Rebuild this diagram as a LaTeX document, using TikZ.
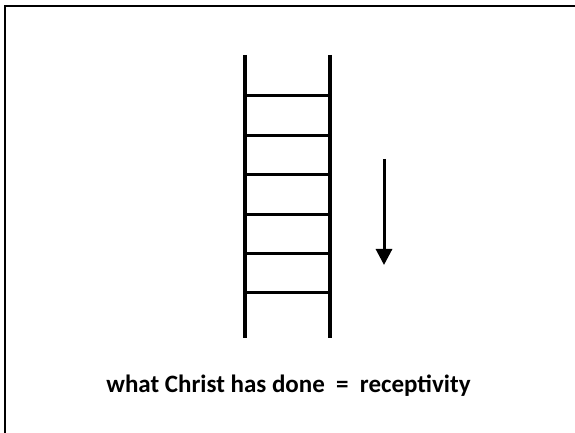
\documentclass[tikz,border=0pt]{standalone}
\usepackage{fontspec}
\setmainfont{Carlito}
\usetikzlibrary{arrows.meta}
\tikzset{frame/.style={line width=2pt},
  rail/.style={line width=3.3pt},
  rung/.style={line width=3pt},
  arrow/.style={-{Triangle[length=16pt,width=16pt]},line width=3pt},
  caption/.style={font=\bfseries\fontsize{25}{30}\selectfont,anchor=base}}

\begin{document}
\begin{tikzpicture}[x=1pt,y=1pt]
\useasboundingbox (0,0) rectangle (575,433);
\draw[frame] (5,-10) |- (585,427);
% ladder
\coordinate (lefttop) at (245,378);
\coordinate (leftbot) at (245,95);
\coordinate (righttop) at (330,378);
\coordinate (rightbot) at (330,95);
\draw[rail] (lefttop) -- (leftbot);
\draw[rail] (righttop) -- (rightbot);
\foreach \k in {0,...,5}
  \draw[rung] ([yshift=-41pt-39.4pt*\k]lefttop) -- ([yshift=-41pt-39.4pt*\k]righttop);
% direction
\coordinate (from) at (384,274);
\coordinate (to) at (384,168);
\draw[arrow] (from) -- (to);
\node[caption] (cap) at (288.5,40) {what Christ has done\ \ =\ \ receptivity};
\end{tikzpicture}
\end{document}
